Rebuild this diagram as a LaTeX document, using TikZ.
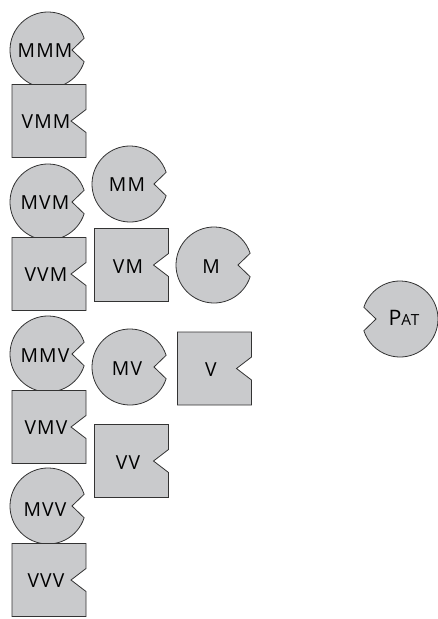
\documentclass[tikz,border=0pt]{standalone}
\usepackage{fontspec}
\setmainfont{Open Sans}[LetterSpace=6]
\definecolor{shapegray}{RGB}{201,202,204}

\begin{document}
\begin{tikzpicture}[
  x=0.75pt, y=-0.75pt,
  shp/.style={draw=black!80, fill=shapegray, line width=0.6pt},
  lbl/.style={font=\fontsize{14.5}{15}\selectfont, inner sep=0pt},
  pac/.pic={\path[shp] (18:38) arc[start angle=18, end angle=342, radius=38] -- (24,0) -- cycle;},
  notchbox/.pic={\path[shp] (-37,-36.5) -- (37,-36.5) -- (37,-11.5) -- (22,0) -- (37,11.5) -- (37,36.5) -- (-37,36.5) -- cycle;}
]
\useasboundingbox (0,0) rectangle (438,619);

% first column: pairs of circle and box
\pic at (48,50) {pac};
\pic at (49,121) {notchbox};
\node[lbl] (mmm) at (45,51) {MMM};
\node[lbl] (vmm) at (46,122) {VMM};

\pic at (48,202) {pac};
\pic at (49,274) {notchbox};
\node[lbl] (mvm) at (45,203) {MVM};
\node[lbl] (vvm) at (46,275) {VVM};

\pic at (48,354) {pac};
\pic at (49,427) {notchbox};
\node[lbl] (mmv) at (45,356) {MMV};
\node[lbl] (vmv) at (46,428) {VMV};

\pic at (48,506) {pac};
\pic at (49,580) {notchbox};
\node[lbl] (mvv) at (45,510) {MVV};
\node[lbl] (vvv) at (46,581) {VVV};

% second column
\pic at (130,184) {pac};
\pic at (131.5,265) {notchbox};
\node[lbl] (mm) at (127,185) {MM};
\node[lbl] (vm) at (128,267) {VM};

\pic at (130,367) {pac};
\pic at (131.5,461) {notchbox};
\node[lbl] (mv) at (127,369) {MV};
\node[lbl] (vv) at (128,463) {VV};

% third column
\pic at (214,265) {pac};
\pic at (214.5,368.5) {notchbox};
\node[lbl] (m) at (211,267) {M};
\node[lbl] (v) at (211,370) {V};

% right
\pic[rotate=180] at (400,319) {pac};
\node[lbl] (pat) at (404,318) {{\fontsize{16}{16}\selectfont P}{\fontsize{11.5}{12}\selectfont AT}};

\end{tikzpicture}
\end{document}
